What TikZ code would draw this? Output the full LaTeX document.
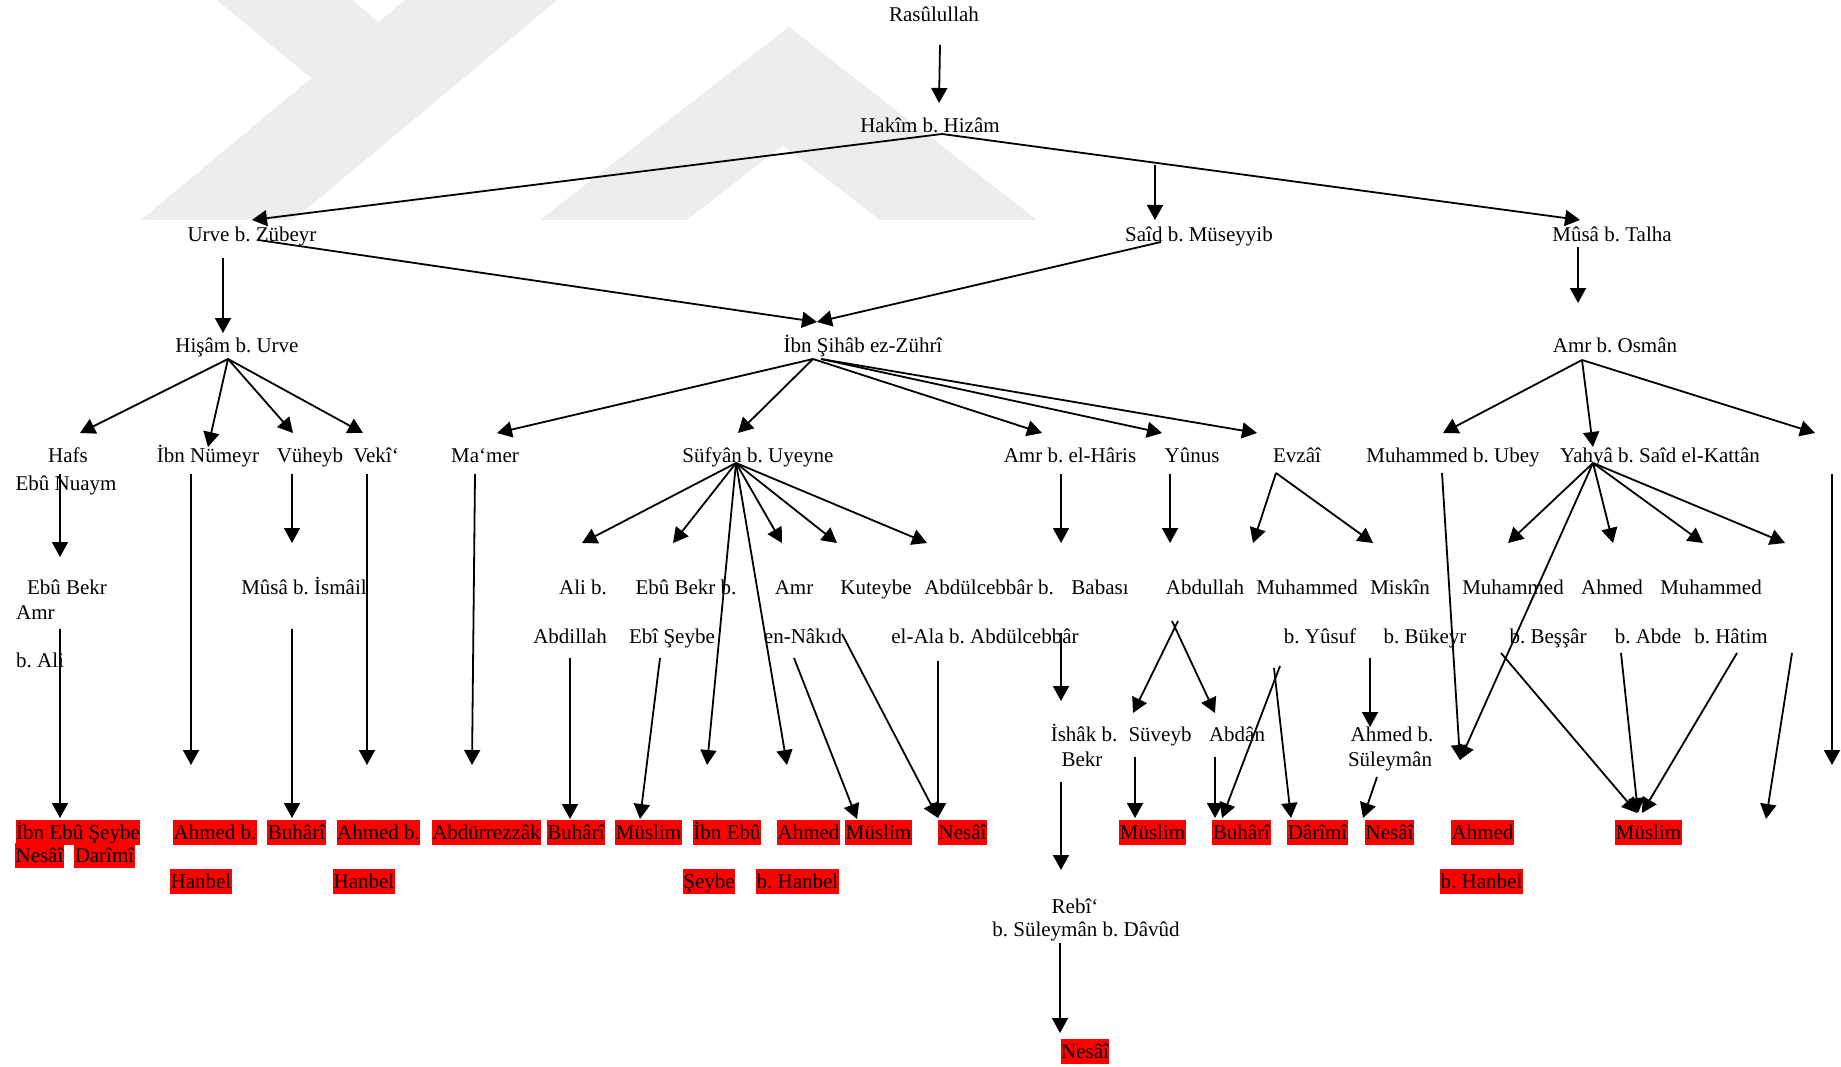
\documentclass[tikz,border=0pt]{standalone}
\usepackage{fontspec}
\setmainfont{Liberation Serif}
\usetikzlibrary{arrows.meta}
\newcommand{\dfs}{\fontsize{21}{25}\selectfont\frenchspacing}
\definecolor{wmark}{HTML}{EDEDED}
\begin{document}
\frenchspacing
\begin{tikzpicture}[x=1pt,y=-1pt,
  lbl/.style={anchor=base,inner sep=0pt,font=\dfs},
  lbll/.style={anchor=base west,inner sep=0pt,font=\dfs},
  hl/.style={anchor=base,inner xsep=0.5pt,inner ysep=0pt,fill=red,text height=19pt,text depth=6pt,font=\dfs},
  arr/.style={line width=1.8pt,-{Triangle[length=15pt,width=16pt]}},
  wm/.style={fill=wmark,draw=none}]
\useasboundingbox[fill=white] (0,0) rectangle (1841,1067);

% ---------- faint background watermark ----------
\fill[wm] (141,220) -- (293,220) -- (557,0) -- (405,0) -- cycle;
\fill[wm] (217,0) -- (352,0) -- (378,22) -- (311,78) -- cycle;
\fill[wm,even odd rule] (540,220) -- (789,27) -- (1037,220) -- cycle
   (687,220) -- (783,145) -- (880,220) -- cycle;

% ---------- text nodes ----------
\node[lbl] (ras) at (934,22) {Rasûlullah};
\node[lbl] (hak) at (930,133) {Hakîm b. Hizâm};
\node[lbl] (urve) at (252,242) {Urve b. Zübeyr};
\node[lbl] (said) at (1199,242) {Saîd b. Müseyyib};
\node[lbl] (musa) at (1612,242) {Mûsâ b. Talha};
\node[lbl] (hisam) at (237,352) {Hişâm b. Urve};
\node[lbl] (zuhri) at (863,352) {İbn Şihâb ez-Zührî};
\node[lbl] (amros) at (1615,352) {Amr b. Osmân};

\node[lbl] (hafs) at (68,462) {Hafs};
\node[lbl] (nuaym) at (66,490) {Ebû Nuaym};
\node[lbl] (numeyr) at (208,462) {İbn Nümeyr};
\node[lbl] (vuheyb) at (310,462) {Vüheyb};
\node[lbl] (veki) at (376,462) {Vekî‘};
\node[lbl] (mamer) at (485,462) {Ma‘mer};
\node[lbl] (sufyan) at (758,462) {Süfyân b. Uyeyne};
\node[lbl] (amrh) at (1070,462) {Amr b. el-Hâris};
\node[lbl] (yunus) at (1192,462) {Yûnus};
\node[lbl] (evzai) at (1297,462) {Evzâî};
\node[lbl] (ubey) at (1453,462) {Muhammed b. Ubey};
\node[lbl] (yahya) at (1660,462) {Yahyâ b. Saîd el-Kattân};

\node[lbl] (ebubekr) at (67,594) {Ebû Bekr};
\node[lbll] (amr1) at (16,619) {Amr};
\node[lbll] (ali1) at (16,667) {b. Ali};
\node[lbl] (musaism) at (304,594) {Mûsâ b. İsmâil};
\node[lbl] (alib) at (583,594) {Ali b.};
\node[lbl] (abdillah) at (570,643) {Abdillah};
\node[lbl] (ebubekrb) at (686,594) {Ebû Bekr b.};
\node[lbl] (ebiseybe) at (672,643) {Ebî Şeybe};
\node[lbl] (amr2) at (794,594) {Amr};
\node[lbl] (nakid) at (803,643) {en-Nâkıd};
\node[lbl] (kuteybe) at (876,594) {Kuteybe};
\node[lbl] (abdulc) at (989,594) {Abdülcebbâr b.};
\node[lbl] (elala) at (985,643) {el-Ala b. Abdülcebbâr};
\node[lbl] (babasi) at (1100,594) {Babası};
\node[lbl] (abdullah) at (1205,594) {Abdullah};
\node[lbl] (muh1) at (1307,594) {Muhammed};
\node[lbl] (yusuf) at (1320,643) {b. Yûsuf};
\node[lbl] (miskin) at (1400,594) {Miskîn};
\node[lbl] (bukeyr) at (1425,643) {b. Bükeyr};
\node[lbl] (muh2) at (1513,594) {Muhammed};
\node[lbl] (bessar) at (1548,643) {b. Beşşâr};
\node[lbl] (ahmed1) at (1612,594) {Ahmed};
\node[lbl] (abde) at (1648,643) {b. Abde};
\node[lbl] (muh3) at (1711,594) {Muhammed};
\node[lbl] (hatim) at (1731,643) {b. Hâtim};

\node[lbl] (ishak) at (1084,741) {İshâk b.};
\node[lbl] (bekr) at (1082,766) {Bekr};
\node[lbl] (suveyb) at (1160,741) {Süveyb};
\node[lbl] (abdan) at (1237,741) {Abdân};
\node[lbl] (ahmedb) at (1392,741) {Ahmed b.};
\node[lbl] (suleyman) at (1390,766) {Süleymân};

\node[lbl] (rebi) at (1075,913) {Rebî‘};
\node[lbl] (rebi2) at (1086,936) {b. Süleymân b. Dâvûd};

% ---------- highlighted (red) nodes ----------
\node[hl] (r1) at (78,839) {İbn Ebû Şeybe};
\node[hl] (r1a) at (39.5,862) {Nesâî};
\node[hl] (r1b) at (104.5,862) {Darîmî};
\node[hl] (r2) at (215,839) {Ahmed b.};
\node[hl] (r2b) at (201,888) {Hanbel};
\node[hl] (r3) at (296.5,839) {Buhârî};
\node[hl] (r4) at (378.5,839) {Ahmed b.};
\node[hl] (r4b) at (364,888) {Hanbel};
\node[hl] (r5) at (486.5,839) {Abdürrezzâk};
\node[hl] (r6) at (576,839) {Buhârî};
\node[hl] (r7) at (648.5,839) {Müslim};
\node[hl] (r8) at (727,839) {İbn Ebû};
\node[hl] (r8b) at (709,888) {Şeybe};
\node[hl] (r9) at (808.5,839) {Ahmed};
\node[hl] (r9b) at (797.5,888) {b. Hanbel};
\node[hl] (r10) at (878.5,839) {Müslim};
\node[hl] (r11) at (962.5,839) {Nesâî};
\node[hl] (r12) at (1152.5,839) {Müslim};
\node[hl] (r13) at (1241.5,839) {Buhârî};
\node[hl] (r14) at (1317.5,839) {Dârîmî};
\node[hl] (r15) at (1389.5,839) {Nesâî};
\node[hl] (r16) at (1482.5,839) {Ahmed};
\node[hl] (r16b) at (1481.5,888) {b. Hanbel};
\node[hl] (r17) at (1648.5,839) {Müslim};
\node[hl] (r18) at (1085,1058) {Nesâî};

% ---------- connector end points ----------
\coordinate (rasS) at (940,45);   \coordinate (hakT) at (939,103);
\coordinate (hakS) at (942,134);
\coordinate (urveT) at (252,220); \coordinate (musaT) at (1580,220);
\coordinate (saidB) at (1155,165); \coordinate (saidT) at (1155,220);
\coordinate (urveS) at (223,258); \coordinate (hisamT) at (223,333);
\coordinate (urveS2) at (258,240); \coordinate (zuhriT) at (817,322);
\coordinate (saidS) at (1161,242);
\coordinate (musaS) at (1578,247); \coordinate (amrosT) at (1578,303);
\coordinate (hisamS) at (228,359);
\coordinate (hafsT) at (80,433); \coordinate (numeyrT) at (208,447);
\coordinate (vuheybT) at (293,433); \coordinate (vekiT) at (363,433);
\coordinate (zuhriS) at (813,359); \coordinate (zuhriS2) at (821,359);
\coordinate (mamerT) at (497,433); \coordinate (sufyanT) at (738,433);
\coordinate (amrhT) at (1042,433); \coordinate (yunusT) at (1162,433);
\coordinate (evzaiT) at (1257,433);
\coordinate (amrosS) at (1582,360);
\coordinate (ubeyT) at (1443,433); \coordinate (yahyaT) at (1593,447);
\coordinate (emptyT) at (1815,433);
\coordinate (hafsS) at (60,474); \coordinate (ebubekrT) at (60,557);
\coordinate (numeyrS) at (191,474); \coordinate (numeyrE) at (191,765);
\coordinate (vuheybS) at (292,474); \coordinate (musaismT) at (292,543);
\coordinate (vekiS) at (367,474); \coordinate (vekiE) at (367,765);
\coordinate (mamerS) at (475,474); \coordinate (mamerE) at (472,765);
\coordinate (sufyanS) at (736,463);
\coordinate (alibT) at (582,543); \coordinate (ebubekrbT) at (673,543);
\coordinate (amr2T) at (782,543); \coordinate (kuteybeT) at (837,543);
\coordinate (abdulcT) at (927,543);
\coordinate (r8T) at (707,765); \coordinate (r9T) at (787,765);
\coordinate (amrhS) at (1061,474); \coordinate (babasiT) at (1061,543);
\coordinate (yunusS) at (1170,474); \coordinate (abdullahT) at (1170,543);
\coordinate (evzaiS) at (1276,473);
\coordinate (muh1T) at (1253,543); \coordinate (miskinT) at (1373,543);
\coordinate (ubeyS) at (1442,473); \coordinate (ahmT) at (1460,760);
\coordinate (yahyaS) at (1593,463);
\coordinate (muh2T) at (1508,543); \coordinate (ahmed1T) at (1613,543);
\coordinate (muh3T) at (1703,543); \coordinate (empty2T) at (1785,543);
\coordinate (emptyS) at (1832,474); \coordinate (emptyE) at (1832,765);
\coordinate (ebubekrS) at (60,629); \coordinate (r1T) at (60,818);
\coordinate (musaismS) at (292,629); \coordinate (r3T) at (292,818);
\coordinate (abdillahS) at (570,658); \coordinate (r6T) at (570,819);
\coordinate (ebiseybeS) at (660,658); \coordinate (r7T) at (640,819);
\coordinate (nakidS) at (794,658); \coordinate (r10T) at (857,819);
\coordinate (kuteybeS) at (842,634); \coordinate (r11T) at (938,818);
\coordinate (elalaS) at (938,661); \coordinate (r11T2) at (938,818);
\coordinate (babasiS) at (1061,633); \coordinate (ishakT) at (1061,701);
\coordinate (ishakS) at (1061,782); \coordinate (rebiT) at (1061,870);
\coordinate (abdullahS1) at (1178,621); \coordinate (abdullahS2) at (1172,621);
\coordinate (suveybT) at (1133,713); \coordinate (abdanT) at (1215,713);
\coordinate (suveybS) at (1135,757); \coordinate (r12T) at (1135,818);
\coordinate (abdanS) at (1215,757); \coordinate (r13T) at (1215,818);
\coordinate (yusufS1) at (1280,666); \coordinate (yusufS2) at (1274,668);
\coordinate (r13T2) at (1222,818); \coordinate (r14T) at (1291,818);
\coordinate (bukeyrS) at (1370,658); \coordinate (ahmedbT) at (1370,727);
\coordinate (suleymanS) at (1377,777); \coordinate (r15T) at (1363,818);
\coordinate (bessarS) at (1501,653); \coordinate (r17T1) at (1637,813);
\coordinate (abdeS) at (1621,653); \coordinate (r17T2) at (1638,813);
\coordinate (hatimS) at (1737,653); \coordinate (r17T3) at (1642,813);
\coordinate (empty2S) at (1792,653); \coordinate (empty2E) at (1766,819);
\coordinate (rebiS) at (1060,943); \coordinate (r18T) at (1060,1033);

% ---------- connectors ----------
\draw[arr] (rasS) -- (hakT);
\draw[arr] (hakS) -- (urveT);
\draw[arr] (hakS) -- (musaT);
\draw[arr] (saidB) -- (saidT);
\draw[arr] (urveS) -- (hisamT);
\draw[arr] (urveS2) -- (zuhriT);
\draw[arr] (saidS) -- (zuhriT);
\draw[arr] (musaS) -- (amrosT);

\foreach \t in {hafsT,numeyrT,vuheybT,vekiT} \draw[arr] (hisamS) -- (\t);
\foreach \t in {mamerT,sufyanT,amrhT} \draw[arr] (zuhriS) -- (\t);
\foreach \t in {yunusT,evzaiT} \draw[arr] (zuhriS2) -- (\t);
\foreach \t in {ubeyT,yahyaT,emptyT} \draw[arr] (amrosS) -- (\t);

\draw[arr] (hafsS) -- (ebubekrT);
\draw[arr] (numeyrS) -- (numeyrE);
\draw[arr] (vuheybS) -- (musaismT);
\draw[arr] (vekiS) -- (vekiE);
\draw[arr] (mamerS) -- (mamerE);
\foreach \t in {alibT,ebubekrbT,amr2T,kuteybeT,abdulcT,r8T,r9T} \draw[arr] (sufyanS) -- (\t);
\draw[arr] (amrhS) -- (babasiT);
\draw[arr] (yunusS) -- (abdullahT);
\draw[arr] (evzaiS) -- (muh1T);
\draw[arr] (evzaiS) -- (miskinT);
\draw[arr] (ubeyS) -- (ahmT);
\draw[arr] (yahyaS) -- (ahmT);
\foreach \t in {muh2T,ahmed1T,muh3T,empty2T} \draw[arr] (yahyaS) -- (\t);
\draw[arr] (emptyS) -- (emptyE);

\draw[arr] (ebubekrS) -- (r1T);
\draw[arr] (musaismS) -- (r3T);
\draw[arr] (abdillahS) -- (r6T);
\draw[arr] (ebiseybeS) -- (r7T);
\draw[arr] (nakidS) -- (r10T);
\draw[arr] (kuteybeS) -- (r11T);
\draw[arr] (elalaS) -- (r11T2);
\draw[arr] (babasiS) -- (ishakT);
\draw[arr] (ishakS) -- (rebiT);
\draw[arr] (abdullahS1) -- (suveybT);
\draw[arr] (abdullahS2) -- (abdanT);
\draw[arr] (suveybS) -- (r12T);
\draw[arr] (abdanS) -- (r13T);
\draw[arr] (yusufS1) -- (r13T2);
\draw[arr] (yusufS2) -- (r14T);
\draw[arr] (bukeyrS) -- (ahmedbT);
\draw[arr] (suleymanS) -- (r15T);
\draw[arr] (bessarS) -- (r17T1);
\draw[arr] (abdeS) -- (r17T2);
\draw[arr] (hatimS) -- (r17T3);
\draw[arr] (empty2S) -- (empty2E);
\draw[arr] (rebiS) -- (r18T);
\end{tikzpicture}
\end{document}
